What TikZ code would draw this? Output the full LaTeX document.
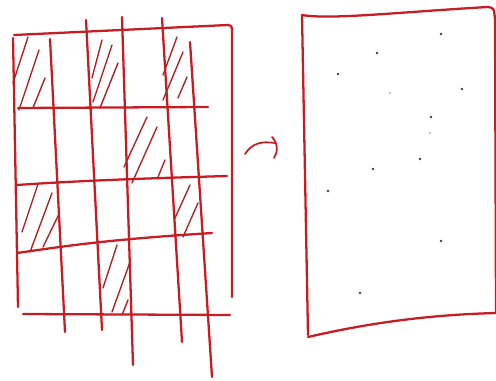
\documentclass[tikz,border=0pt]{standalone}
\usepackage{tikz}
\usetikzlibrary{arrows.meta, calc}
\usepackage{xcolor}
\definecolor{inkred}{RGB}{200, 28, 36}
\definecolor{hatchred}{RGB}{170, 40, 40}
\definecolor{dotgray}{RGB}{70, 60, 60}

\begin{document}
\begin{tikzpicture}[x=0.02cm, y=-0.02cm,
  pen/.style={inkred, line width=1.3pt, line cap=round},
  hatch/.style={hatchred, line width=0.8pt, line cap=round},
  speck/.style={fill=dotgray}]
  \useasboundingbox (0,0) rectangle (496,381);

  % grid: vertical strokes
  \draw[pen] (13,38) -- (18,307);
  \draw[pen] (50,39) -- (65,332);
  \draw[pen] (86,20) -- (102,330);
  \draw[pen] (122,17) -- (133,365);
  \draw[pen] (162,18) -- (182,342);
  \draw[pen] (190,42) -- (212,377);
  % outer frame top + right
  \draw[pen] (14,35) -- (228,25) .. controls (232,26) .. (232,34) -- (232,297);

  % grid: horizontal strokes
  \draw[pen] (18,108) -- (208,107);
  \draw[pen] (17,185) .. controls (90,180) and (160,178) .. (227,176);
  \draw[pen] (17,253) .. controls (60,247) and (100,240) .. (212,233);
  \draw[pen] (23,314) -- (230,315);

  % shaded cells, row 1
  \draw[hatch] (13,83) -- (28,37) (19,110) -- (39,50) (33,108) -- (45,78);
  \draw[hatch] (92,78) -- (102,40) (93,102) -- (112,45) (100,108) -- (118,63);
  \draw[hatch] (163,75) -- (177,37) (163,100) -- (183,52) (178,98) -- (187,77);
  % row 2
  \draw[hatch] (124,167) -- (147,117) (132,183) -- (157,127) (158,177) -- (165,160);
  % row 3
  \draw[hatch] (22,232) -- (38,184) (30,252) -- (52,193) (43,247) -- (59,214);
  \draw[hatch] (175,218) -- (190,185) (183,237) -- (198,203);
  % row 4
  \draw[hatch] (103,288) -- (117,245) (112,312) -- (130,262) (122,315) -- (128,300);

  % arrow between the two sheets
  \draw[pen, line width=1pt] (245,154) .. controls (252,143) and (262,141) .. (275,143);
  \draw[pen, line width=1pt] (272,137) .. controls (278,143) and (278,152) .. (274,158);

  % right sheet
  \draw[pen] (302,15) .. controls (330,20) and (400,12) .. (488,7)
    .. controls (494,8) .. (495,20) -- (496,312);
  \draw[pen] (302,15) -- (308,335);
  \draw[pen] (308,337) .. controls (360,325) and (420,315) .. (496,313);

  % scattered points
  \foreach \px/\py in {441/34, 377/53, 338/74, 462/89, 431/117, 420/159,
                      373/169, 328/191, 441/241, 360/293}
    \fill[speck] (\px,\py) circle (1.4);
  \fill[speck, opacity=0.4] (390,93) circle (1.1);
  \fill[speck, opacity=0.4] (430,133) circle (1.1);
\end{tikzpicture}
\end{document}
